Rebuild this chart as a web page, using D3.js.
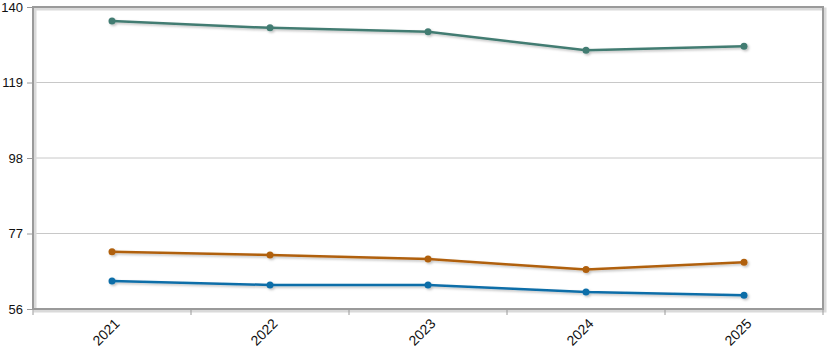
<!DOCTYPE html>
<html>
<head>
<meta charset="utf-8">
<title>Chart</title>
<script src="https://d3js.org/d3.v7.min.js"></script>
<style>
  body { margin: 0; background: #fff; }
  text { font-family: "Liberation Sans", Arial, sans-serif; font-size: 14px; fill: #111; }
</style>
</head>
<body>
<script>
var years = ["2021", "2022", "2023", "2024", "2025"];
var greenVals = [136.1, 134.2, 133.1, 128.0, 129.1];
var orangeVals = [71.9, 71.0, 69.9, 67.0, 69.0];
var blueVals = [63.8, 62.7, 62.7, 60.7, 59.8];
var yTicks = [56, 77, 98, 119, 140];

var series = [
  { color: "#437c72", values: greenVals },
  { color: "#b0600d", values: orangeVals },
  { color: "#106ea8", values: blueVals }
];

var W = 837, H = 363;
var pLeft = 33, pRight = 823, pTop = 7, pBottom = 309;

var svg = d3.select("body").append("svg")
  .attr("width", W).attr("height", H);

var defs = svg.append("defs");
var f = defs.append("filter").attr("id", "sh")
  .attr("x", "-10%").attr("y", "-10%").attr("width", "130%").attr("height", "150%");
f.append("feDropShadow").attr("dx", 1.5).attr("dy", 1.5).attr("stdDeviation", 1)
  .attr("flood-color", "#000").attr("flood-opacity", 0.25);

var x = d3.scaleBand().domain(years).range([pLeft, pRight]);
var y = d3.scaleLinear().domain([56, 140]).range([pBottom, pTop]);

// grid
svg.append("g").selectAll("line")
  .data(yTicks.slice(1, -1))
  .enter().append("line")
  .attr("x1", pLeft).attr("x2", pRight)
  .attr("y1", function (d) { return y(d); })
  .attr("y2", function (d) { return y(d); })
  .attr("stroke", "#c8c8c8").attr("stroke-width", 1);

// frame shadow
svg.append("rect")
  .attr("x", pLeft + 2).attr("y", pTop + 2)
  .attr("width", pRight - pLeft).attr("height", pBottom - pTop)
  .attr("fill", "none").attr("stroke", "#dadada").attr("stroke-width", 3);
svg.append("rect")
  .attr("x", pLeft).attr("y", pTop)
  .attr("width", pRight - pLeft).attr("height", pBottom - pTop)
  .attr("fill", "none").attr("stroke", "#9a9a9a").attr("stroke-width", 2);

// y axis
var yAxis = svg.append("g")
  .attr("transform", "translate(" + pLeft + ",0)")
  .call(d3.axisLeft(y).tickValues(yTicks).tickSize(6).tickPadding(4));
yAxis.select(".domain").remove();
yAxis.selectAll("line").attr("stroke", "#9a9a9a");
yAxis.selectAll("text").attr("fill", "#111").style("font-size", "13px")
  .style("font-family", "Liberation Sans, Arial, sans-serif");

// x axis ticks at band edges
var edges = d3.range(years.length + 1).map(function (i) { return pLeft + i * x.step(); });
svg.append("g").selectAll("line").data(edges).enter().append("line")
  .attr("x1", function (d) { return d; }).attr("x2", function (d) { return d; })
  .attr("y1", pBottom).attr("y2", pBottom + 6)
  .attr("stroke", "#9a9a9a");

svg.append("g").selectAll("text").data(years).enter().append("text")
  .attr("transform", function (d) {
    return "translate(" + (x(d) + x.bandwidth() / 2 + 5) + "," + (pBottom + 12) + ") rotate(-45)";
  })
  .attr("text-anchor", "end")
  .attr("dy", "0.35em")
  .text(function (d) { return d; });

// lines
var line = d3.line()
  .x(function (d, i) { return x(years[i]) + x.bandwidth() / 2; })
  .y(function (d) { return y(d); });

series.forEach(function (s) {
  var g = svg.append("g").attr("filter", "url(#sh)");
  g.append("path").datum(s.values)
    .attr("d", line)
    .attr("fill", "none")
    .attr("stroke", s.color)
    .attr("stroke-width", 2.5);
  g.selectAll("circle").data(s.values).enter().append("circle")
    .attr("cx", function (d, i) { return x(years[i]) + x.bandwidth() / 2; })
    .attr("cy", function (d) { return y(d); })
    .attr("r", 3.5)
    .attr("fill", s.color);
});
</script>
</body>
</html>
